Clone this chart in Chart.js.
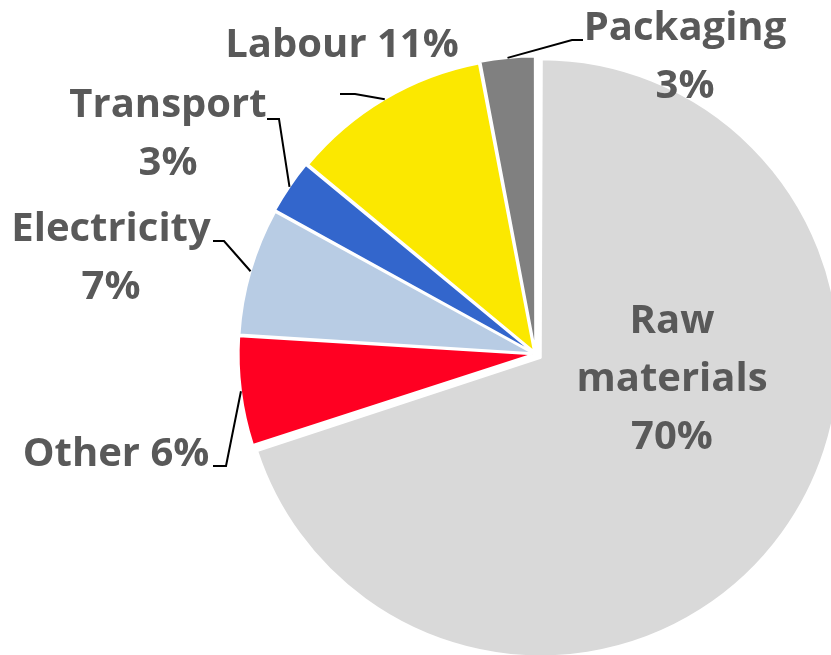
<!DOCTYPE html>
<html>
<head>
<meta charset="utf-8">
<script src="https://cdn.jsdelivr.net/npm/chart.js@4/dist/chart.umd.min.js"></script>
<style>
    html, body { margin: 0; padding: 0; background: #fff; }
    #wrap { width: 831px; height: 655px; position: relative; }
</style>
</head>
<body>
<div id="wrap"><canvas id="costChart"></canvas></div>
<script>
// data
const categories = ['Raw materials', 'Other', 'Electricity', 'Transport', 'Labour', 'Packaging'];
const shares = [70, 6, 7, 3, 11, 3];
const sliceColors = ['#d9d9d9', '#ff0022', '#b8cce4', '#3366cc', '#fbe800', '#808080'];
const sliceOffsets = [26, 12, 12, 12, 12, 12];

// how each label is broken up: 'words' = one word per line, 'below' = % on next line, 'inline' = one line
const labelWrap = ['words', 'inline', 'below', 'below', 'inline', 'below'];

// label placement (centre of first line) and leader elbows, null = no leader
const labelLayout = [
    { x: 672, y: 322, elbow: null, end: null },
    { x: 116, y: 455, elbow: [226, 466], end: [213, 466] },
    { x: 111, y: 230, elbow: [224, 241], end: [213, 241] },
    { x: 168, y: 106, elbow: [279, 119], end: [267, 119] },
    { x: 342, y: 46, elbow: [355, 94], end: [340, 94] },
    { x: 685, y: 29, elbow: [572, 40], end: [583, 40] }
];

const LABEL_FONT = 'bold 40px "Open Sans", sans-serif';
const LINE_HEIGHT = 58;

function labelLines(i) {
    const pct = shares[i] + '%';
    if (labelWrap[i] === 'words') return categories[i].split(' ').concat([pct]);
    if (labelWrap[i] === 'below') return [categories[i], pct];
    return [categories[i] + ' ' + pct];
}

// same shift ArcElement applies for its offset
function arcShift(arc) {
    const off = (arc.options.offset || 0) / 4;
    const circ = arc.endAngle - arc.startAngle;
    const fix = 1 - Math.sin(Math.min(Math.PI, circ));
    return off * (1 + fix);
}

const pieLabels = {
    id: 'pieLabels',
    afterDatasetsDraw(chart) {
        const ctx = chart.ctx;
        const arcs = chart.getDatasetMeta(0).data;
        ctx.save();
        arcs.forEach((arc, i) => {
            const lay = labelLayout[i];
            if (lay.elbow) {
                const mid = (arc.startAngle + arc.endAngle) / 2;
                const r = arc.outerRadius + arcShift(arc);
                ctx.beginPath();
                ctx.moveTo(arc.x + Math.cos(mid) * r, arc.y + Math.sin(mid) * r);
                ctx.lineTo(lay.elbow[0], lay.elbow[1]);
                ctx.lineTo(lay.end[0], lay.end[1]);
                ctx.strokeStyle = '#000';
                ctx.lineWidth = 2;
                ctx.stroke();
            }
            ctx.font = LABEL_FONT;
            ctx.fillStyle = '#595959';
            ctx.textAlign = 'center';
            ctx.textBaseline = 'middle';
            labelLines(i).forEach((line, k) => {
                ctx.fillText(line, lay.x, lay.y + k * LINE_HEIGHT);
            });
        });
        ctx.restore();
    }
};

new Chart(document.getElementById('costChart'), {
    type: 'pie',
    data: {
        labels: categories,
        datasets: [{
            data: shares,
            backgroundColor: sliceColors,
            borderColor: '#ffffff',
            borderWidth: 2,
            offset: sliceOffsets,
            clip: false
        }]
    },
    options: {
        responsive: true,
        maintainAspectRatio: false,
        animation: false,
        radius: 292,
        layout: { padding: { left: 240, top: 53, right: 0, bottom: 0 } },
        plugins: {
            legend: { display: false },
            tooltip: { enabled: false }
        }
    },
    plugins: [pieLabels]
});
</script>
</body>
</html>
